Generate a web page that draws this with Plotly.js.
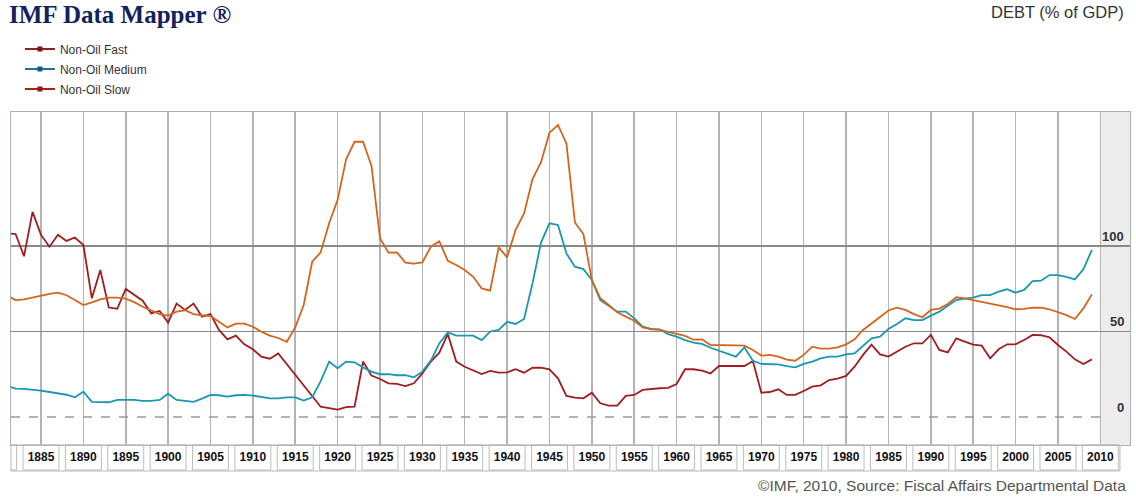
<!DOCTYPE html>
<html>
<head>
<meta charset="utf-8">
<script src="https://cdn.plot.ly/plotly-3.0.1.min.js"></script>
<style>html,body{margin:0;padding:0;background:#fff;}#chart{width:1136px;height:497px;}</style>
</head>
<body>
<div id="chart"></div>
<script>
var years = [];
for (var yr = 1881; yr <= 2009; yr++) years.push(yr);

var seriesNames = ["Non-Oil Fast", "Non-Oil Medium", "Non-Oil Slow"];

var nonOilFast = [107.5,107,94,120,106.5,99.6,106.6,103,105,100.6,
  69.4,86,64,63.3,74.9,71.7,68,60.6,62,55.2,
  66.3,62.6,66.3,58.7,60.2,50.9,45.4,47.6,42.5,39.6,
  35.3,34.1,37.2,null,null,null,null,6,5.1,4.3,
  5.7,6,32.4,24.2,22.2,19.7,19.3,18.1,19.7,25.5,
  32.4,37.6,48.5,32.4,29.4,27.1,25.1,26.9,25.9,26.1,
  27.9,25.9,28.8,28.8,27.9,22.6,12.3,11.3,10.9,14.2,
  8,6.6,6.6,12.3,12.9,15.8,16.4,16.8,17,19.3,
  27.9,27.9,27.1,25.5,29.8,29.8,29.8,29.8,32.7,14.2,
  14.6,16.2,12.9,12.9,15.2,17.7,18.5,21.6,22.4,24,
  29.4,36.3,42.3,36.6,35.3,38.2,41.1,43.1,43.1,48,
  39.2,37.8,46,44.1,42.3,41.7,34.3,39.6,42.5,42.5,
  45,48,47.8,46.6,42.1,38.2,33.7,31,33.7];

var nonOilMedium = [18.3,16.6,16.4,16,15.4,14.6,13.8,13,11.5,14.8,
  8.8,8.6,8.6,10,10,10,9.4,9.4,10,13.6,
  10,9.4,8.8,10.7,12.9,12.7,11.9,12.7,12.9,12.5,
  11.5,10.9,10.9,11.5,11.5,9.6,11.5,21,32.4,28.5,
  32.4,32,29,26.5,25,25,24.4,24.4,23.2,26.5,
  33,43,49.5,47.6,47.6,47.6,45,49.9,50.9,55.7,
  54.4,57.3,78.2,102,113.3,112.3,95.7,87.9,86.5,80.1,
  68.4,64.9,61.6,61.6,57.7,52.8,51.5,51.3,48.5,47,
  45,43.5,42.7,40.5,38.8,36.8,35.3,40.7,32.9,31,
  30.8,30.8,29.8,29,31,32.4,34.3,35.3,35.3,36.6,
  37.2,41.5,46,47,51.5,54.4,57.7,56.7,56.7,59.3,
  61.6,65,68.4,69.2,69.8,71.3,71.3,73.3,74.7,72.7,
  74.3,79.5,79.7,83,83,82,80.5,86.4,97.7];

var nonOilSlow = [71,68.4,68.8,69.8,71.2,72,72.7,71.2,68.4,65.5,
  67,68.8,69.8,69.8,69.2,67.2,64.5,62.2,60.2,59.3,
  61.6,62.4,60.2,59.5,59,55.7,52.4,54.6,54.6,52.8,
  49.9,47.6,46.2,44,52.4,65.5,90.8,96.3,113.3,127,
  150.7,161,161,146.8,104.5,96.1,96.3,90.3,89.7,90.4,
  99.6,102.7,91.4,88.9,86,82,75.2,73.9,99.2,93.4,
  109.4,119.1,139.2,149,166.3,170.8,160,113.8,107,80.1,
  69.4,65.5,61.2,58.7,56.3,52.4,51.3,50.9,49.8,48.9,
  47.4,45.2,45.4,42.1,42.1,42.3,41.9,41.7,39.2,35.9,
  36.3,35.3,33.5,32.9,36.3,41.1,40,40,40.7,42.5,
  45.4,50.9,54.8,58.3,62.3,63.9,62.6,60.2,58.3,62.6,
  63.4,66.1,70,69.4,68.4,67.1,66.1,65.5,64.3,63,
  63.2,63.9,63.9,63,61.4,59.6,57.3,63.5,71.7];

var xTickYears = [1880,1885,1890,1895,1900,1905,1910,1915,1920,1925,1930,1935,1940,1945,1950,1955,1960,1965,1970,1975,1980,1985,1990,1995,2000,2005,2010];
var xTickLabels = xTickYears.map(String);
var yTickValues = [0, 50, 100];
var yTickLabels = ["0", "50", "100"];

var lineColors = ["#a01d22", "#1a97b2", "#d4651d"];
var legendColors = ["#8e2222", "#20729c", "#ab1f14"];
var legendMarkerColors = ["#7a1515", "#155a80", "#951507"];
var seriesData = [nonOilFast, nonOilMedium, nonOilSlow];

var traces = [];
seriesData.forEach(function (vals, i) {
  traces.push({
    x: years, y: vals, type: "scatter", mode: "lines", name: seriesNames[i],
    connectgaps: true, showlegend: false,
    line: {color: lineColors[i], width: 1.8}
  });
});
seriesNames.forEach(function (nm, i) {
  traces.push({
    x: [null], y: [null], type: "scatter", mode: "lines+markers", name: nm,
    legendgroup: "g" + i, showlegend: true,
    line: {color: legendColors[i], width: 2},
    marker: {symbol: "square", size: 5, color: legendMarkerColors[i]}
  });
});

var shapes = [];
shapes.push({type: "rect", xref: "x", yref: "paper", x0: 2010, x1: 2020, y0: 0, y1: 1,
  fillcolor: "#ededed", line: {width: 0}, layer: "below"});
shapes.push({type: "line", xref: "paper", yref: "y", x0: 0, x1: 0.975, y0: 0, y1: 0,
  line: {color: "#9a9a9a", width: 1.5, dash: "dash"}, layer: "above"});
xTickYears.forEach(function (t) {
  shapes.push({type: "rect", xref: "x", yref: "paper", x0: t - 2.12, x1: t + 2.12, y0: -0.075, y1: 0,
    fillcolor: "#ffffff", line: {color: "#bdbdbd", width: 1}, layer: "below"});
});
shapes.push({type: "rect", xref: "paper", yref: "paper", x0: 0, x1: 0.991, y0: -0.078, y1: 0,
  fillcolor: "rgba(0,0,0,0)", line: {color: "#b8b8b8", width: 1}});

var annotations = [
  {text: "<b>IMF Data Mapper ®</b>", xref: "paper", yref: "paper", x: -0.004, y: 1.294,
   xanchor: "left", yanchor: "middle", showarrow: false,
   font: {family: "Liberation Serif, Times New Roman, serif", size: 25, color: "#13215c"}},
  {text: "DEBT (% of GDP)", xref: "paper", yref: "paper", x: 0.9965, y: 1.30,
   xanchor: "right", yanchor: "middle", showarrow: false,
   font: {family: "Liberation Sans, Arial, sans-serif", size: 16.5, color: "#333333"}},
  {text: "©IMF, 2010, Source: Fiscal Affairs Departmental Data", xref: "paper", yref: "paper",
   x: 0.998, y: -0.123, xanchor: "right", yanchor: "middle", showarrow: false,
   font: {family: "Liberation Sans, Arial, sans-serif", size: 15.5, color: "#555555"}}
];
yTickValues.forEach(function (v, i) {
  annotations.push({text: "<b>" + yTickLabels[i] + "</b>", xref: "paper", yref: "y", x: 1, y: v,
    xanchor: "right", yanchor: "bottom", xshift: -4, yshift: 0, showarrow: false,
    font: {family: "Liberation Sans, Arial, sans-serif", size: 13, color: "#333333"}});
});

var layout = {
  width: 1136, height: 497,
  margin: {l: 11, r: 6, t: 112, b: 52, pad: 0},
  paper_bgcolor: "#ffffff", plot_bgcolor: "#ffffff",
  font: {family: "Liberation Sans, Arial, sans-serif", color: "#222"},
  showlegend: true,
  legend: {x: 0.008, y: 1.233, xanchor: "left", yanchor: "top", bgcolor: "rgba(0,0,0,0)",
    font: {size: 12, color: "#333333"}, tracegroupgap: 1, traceorder: "grouped"},
  xaxis: {range: [1881.46, 2013.5], tickvals: xTickYears, ticktext: xTickLabels,
    showgrid: true, gridcolor: "#b4b4b4", gridwidth: 1.5, zeroline: false,
    showline: true, mirror: true, linecolor: "#a4b6b0", linewidth: 1.2,
    ticks: "", tickfont: {size: 12, color: "#111", weight: "bold"}, fixedrange: true},
  yaxis: {range: [-16.4, 178.4], tickvals: [50, 100], showticklabels: false,
    showgrid: true, gridcolor: "#8a8a8a", gridwidth: 1.2, zeroline: false,
    showline: true, mirror: true, linecolor: "#a4b6b0", linewidth: 1.2, ticks: "", fixedrange: true},
  shapes: shapes,
  annotations: annotations
};

Plotly.newPlot("chart", traces, layout, {displayModeBar: false, staticPlot: true});
</script>
</body>
</html>
